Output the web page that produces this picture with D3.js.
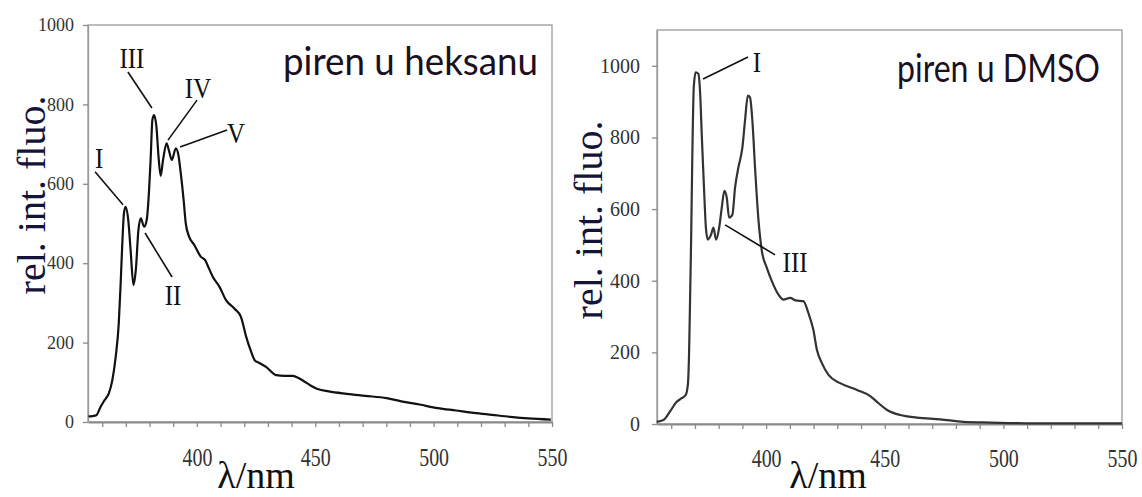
<!DOCTYPE html>
<html>
<head>
<meta charset="utf-8">
<script src="https://cdn.jsdelivr.net/npm/d3@7"></script>
<style>
  body { margin: 0; background: #fff; }
  svg { display: block; }
  .tick text { font-family: "Liberation Serif", "Times New Roman", serif; }
</style>
</head>
<body>
<div id="chart"></div>
<script>
// pyrene in hexane
const hexWl = [354.2, 356, 357.5, 359.3, 361, 362.8, 364.3, 365.7, 367, 367.8, 368.5, 369.2, 369.9, 371, 372,
    373.2, 374.2, 375.3, 376.3, 377.7, 378.8, 379.8, 380.5, 381.2, 381.9, 382.9, 383.8, 384.7, 385.7, 387.2,
    388.3, 389.4, 391.1, 392.2, 393.2, 394.4, 395.3, 396.7, 398.9, 401.7, 403.5, 404.5, 406.7, 409.5, 412.3,
    415.8, 418.6, 420.8, 422.9, 424.5, 426, 429.2, 433.5, 437, 440.3, 442.5, 444.9, 448, 451, 455.7, 463.3,
    471, 480.2, 486.3, 494, 501.7, 509.4, 517, 524.7, 532.4, 540, 549.5];
const hexInt = [14, 15, 17, 38, 55, 72, 106, 164, 249, 350, 451, 526, 542, 509, 433,
    345, 383, 484, 513, 492, 509, 584, 668, 761, 773, 744, 668, 620, 660, 702,
    681, 660, 689, 672, 626, 559, 500, 467, 446, 416, 408, 395, 366, 341, 307,
    286, 265, 215, 177, 155, 150, 139, 118, 116, 116, 112, 104, 92, 83, 77, 71,
    66, 60, 52, 44, 35, 29, 23, 18, 13, 9, 6];

// pyrene in DMSO
const dmsoWl = [353.9, 356.7, 359.5, 362.3, 364.4, 366.1, 367, 367.5, 367.9, 368.4, 368.9, 369.5, 370.3, 371.4,
    372.2, 372.9, 373.8, 374.6, 375.4, 376.8, 377.8, 378.9, 380.2, 381.3, 382.4, 383.4, 384.4, 385.8, 386.9,
    388.3, 390, 391.1, 392.3, 393.2, 394.2, 395.4, 396.8, 398.2, 400.3, 402.4, 405.2, 407.3, 410.1, 412.5,
    415.7, 417.8, 419.9, 421.4, 423.5, 426.3, 431.2, 438.3, 443.9, 447.4, 451, 456.5, 463.6, 473.4, 483.2,
    494.5, 510, 530, 550];
const dmsoInt = [6, 11, 35, 62, 72, 81, 109, 193, 333, 521, 753, 940, 982, 978,
    922, 801, 661, 549, 515, 529, 548, 515, 548, 604, 651, 632, 576, 585, 660,
    716, 772, 847, 917, 912, 847, 707, 567, 483, 436, 399, 361, 347, 352, 345,
    343, 310, 263, 207, 170, 137, 114, 95, 78, 58, 39, 25, 18, 13, 6,
    4, 2, 2, 2];

const xTicks = [360, 370, 380, 390, 400, 410, 420, 430, 440, 450, 460, 470, 480, 490, 500, 510, 520, 530, 540, 550];
const xTickLabels = [400, 450, 500, 550];
const yTicks = [0, 200, 400, 600, 800, 1000];

// labelled vibronic bands: where the leader line touches the curve
const hexBands = ["I", "II", "III", "IV", "V"];
const hexBandWl = [368.8, 378.1, 381.0, 387.8, 392.9];
const hexBandVal = [547, 476, 791, 710, 693];
const dmsoBands = ["I", "III"];
const dmsoBandWl = [373.4, 382.7];
const dmsoBandVal = [963, 556];

var serif = "'Liberation Serif', 'Times New Roman', serif";
var width = 1142;
var height = 497;

var svg = d3.select("#chart")
    .append("svg")
    .attr("width", width)
    .attr("height", height);

svg.append("rect").attr("width", width).attr("height", height).attr("fill", "#fff");

function drawPanel(p) {
    var x = d3.scaleLinear().domain([354, 550]).range([p.left, p.right]);
    var y = d3.scaleLinear().domain([0, p.yMax]).range([p.bottom, p.top]);

    // plot frame
    svg.append("rect")
        .attr("x", p.left)
        .attr("y", p.top)
        .attr("width", p.right - p.left)
        .attr("height", p.bottom - p.top)
        .attr("fill", "none")
        .attr("stroke", "#9a9a9a")
        .attr("stroke-width", 1.3);

    // x axis
    var gx = svg.append("g")
        .attr("transform", "translate(0," + p.bottom + ")")
        .call(d3.axisBottom(x)
            .tickValues(xTicks)
            .tickSize(5)
            .tickSizeOuter(0)
            .tickFormat(function (d) { return xTickLabels.indexOf(d) >= 0 ? String(d) : ""; }))
        .attr("font-family", serif)
        .attr("font-size", 21);
    gx.select(".domain").attr("stroke", "#8a8a8a").attr("stroke-width", 2);
    gx.selectAll(".tick line").attr("stroke", "#8a8a8a").attr("stroke-width", 1.3);
    gx.selectAll(".tick text")
        .attr("y", 0)
        .attr("dy", null)
        .attr("transform", "translate(0," + p.xTickBase + ") scale(0.95,1.25)")
        .attr("fill", "#333")
        .style("font-size", "21px");

    // y axis
    var gy = svg.append("g")
        .attr("transform", "translate(" + p.left + ",0)")
        .call(d3.axisLeft(y)
            .tickValues(yTicks)
            .tickSize(5)
            .tickSizeOuter(0)
            .tickPadding(p.yTickPad)
            .tickFormat(d3.format("d")))
        .attr("font-family", serif)
        .attr("font-size", p.yTickFont);
    gy.select(".domain").attr("stroke", "#9a9a9a").attr("stroke-width", 1.3);
    gy.selectAll(".tick line").attr("stroke", "#8a8a8a").attr("stroke-width", 1.3);
    gy.selectAll(".tick text")
        .attr("fill", "#333")
        .style("font-size", p.yTickFont + "px");

    // spectrum
    var line = d3.line()
        .x(function (d, i) { return x(p.wl[i]); })
        .y(function (d) { return y(d); })
        .curve(d3.curveMonotoneX);

    svg.append("path")
        .datum(p.vals)
        .attr("d", line)
        .attr("fill", "none")
        .attr("stroke", p.lineColor)
        .attr("stroke-width", 2.2)
        .attr("stroke-linejoin", "round");

    // band labels with leader lines
    p.bands.forEach(function (b, i) {
        var ax = x(p.bandWl[i]);
        var ay = y(p.bandVal[i]);
        var o = p.bandOffsets[i];
        svg.append("line")
            .attr("x1", ax)
            .attr("y1", ay)
            .attr("x2", ax + o[0])
            .attr("y2", ay + o[1])
            .attr("stroke", "#111")
            .attr("stroke-width", 1.6);
        svg.append("text")
            .attr("transform", "translate(" + (ax + o[2]) + "," + (ay + o[3]) + ") scale(1,1.15)")
            .attr("text-anchor", "middle")
            .attr("fill", "#111")
            .style("font-family", serif)
            .style("font-size", "25px")
            .text(b);
    });

    // title inside the plot
    svg.append("text")
        .attr("x", p.titleX)
        .attr("y", p.titleY)
        .attr("textLength", p.titleLen)
        .attr("lengthAdjust", "spacingAndGlyphs")
        .attr("fill", "#1a1020")
        .style("font-family", "Lato, 'Open Sans', sans-serif")
        .style("font-size", "38px")
        .text(p.title);

    // axis titles
    svg.append("text")
        .attr("transform", "translate(" + p.yLabelX + "," + p.yLabelY + ") rotate(-90)")
        .attr("text-anchor", "middle")
        .attr("fill", "#141438")
        .style("font-family", serif)
        .style("font-size", "40px")
        .text("rel. int. fluo.");

    svg.append("text")
        .attr("x", p.xLabelX)
        .attr("y", 488)
        .attr("text-anchor", "middle")
        .attr("fill", "#111")
        .style("font-family", serif)
        .style("font-size", "38px")
        .text("λ/nm");
}

drawPanel({
    left: 88, right: 552, top: 25, bottom: 422, yMax: 1000,
    wl: hexWl, vals: hexInt, lineColor: "#111",
    xTickBase: 44, yTickPad: 9, yTickFont: 18,
    bands: hexBands, bandWl: hexBandWl, bandVal: hexBandVal,
    bandOffsets: [[-28, -33, -24, -37], [27, 44, 28, 72], [-24, -36, -20, -40], [29, -40, 30, -42], [47, -17, 56, -4]],
    title: "piren u heksanu", titleX: 283, titleY: 75, titleLen: 255,
    yLabelX: 45, yLabelY: 195, xLabelX: 256
});

drawPanel({
    left: 657, right: 1122, top: 30, bottom: 424, yMax: 1100,
    wl: dmsoWl, vals: dmsoInt, lineColor: "#333",
    xTickBase: 43, yTickPad: 12, yTickFont: 20,
    bands: dmsoBands, bandWl: dmsoBandWl, bandVal: dmsoBandVal,
    bandOffsets: [[45, -22, 54, -7], [50, 30, 70, 47]],
    title: "piren u DMSO", titleX: 897, titleY: 82, titleLen: 203,
    yLabelX: 602, yLabelY: 220, xLabelX: 828
});
</script>
</body>
</html>
